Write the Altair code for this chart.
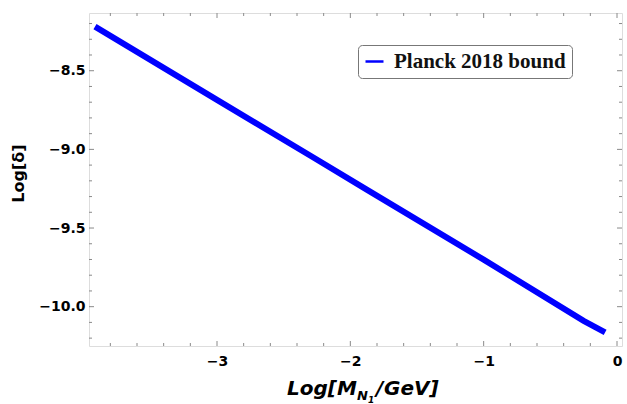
import altair as alt
import pandas as pd

# ---- data ----
log_m = [-3.915, -3.0, -2.28, -1.88, -1.0, -0.25, -0.089]
log_delta = [-8.22, -8.685, -9.05, -9.254, -9.701, -10.09, -10.163]
series_name = "Planck 2018 bound"

x_major = [-3, -2, -1, 0]
x_minor = [-3.8, -3.6, -3.4, -3.2, -2.8, -2.6, -2.4, -2.2, -1.8, -1.6, -1.4, -1.2,
           -0.8, -0.6, -0.4, -0.2]
y_major = [-8.5, -9.0, -9.5, -10.0]
y_minor = [-8.2, -8.3, -8.4, -8.6, -8.7, -8.8, -8.9, -9.1, -9.2, -9.3, -9.4,
           -9.6, -9.7, -9.8, -9.9, -10.1, -10.2]

X_DOMAIN = [-3.96, 0.0375]
Y_DOMAIN = [-10.25, -8.133]
W, H = 533, 333
FRAME = "#8a8a8a"

df = pd.DataFrame({"m": log_m, "d": log_delta, "s": [series_name] * len(log_m)})

xs = alt.Scale(domain=X_DOMAIN, nice=False, zero=False)
ys = alt.Scale(domain=Y_DOMAIN, nice=False, zero=False)

x_axis = alt.Axis(
    values=x_major, format=".0f", title=None, ticks=False, domain=False, grid=False,
    labelFont="DejaVu Sans", labelFontWeight="bold", labelFontSize=14,
    labelColor="black", labelPadding=8)
y_axis = alt.Axis(
    values=y_major, format=".1f", title="Log[δ]", ticks=False, domain=False, grid=False,
    labelFont="DejaVu Sans", labelFontWeight="bold", labelFontSize=14,
    labelColor="black", labelPadding=4,
    titleFont="DejaVu Sans", titleFontWeight="bold", titleFontSize=16,
    titleColor="black", titleAngle=270, titleX=-71, titleY=160,
    titleAlign="center", titleBaseline="middle")

line = alt.Chart(df).mark_line(strokeWidth=6, strokeCap="butt").encode(
    x=alt.X("m:Q", scale=xs, axis=x_axis),
    y=alt.Y("d:Q", scale=ys, axis=y_axis),
    color=alt.Color("s:N", scale=alt.Scale(range=["#0000ff"]), legend=alt.Legend(
        title=None, orient="none", legendX=269, legendY=32,
        symbolType="stroke", symbolSize=324, symbolStrokeWidth=2.5,
        symbolStrokeColor="#5050dd",
        labelFont="Liberation Serif", labelFontWeight="bold", labelFontSize=21,
        labelColor="#111", labelOffset=9, labelLimit=400,
        padding=6, cornerRadius=4, strokeColor="#777", fillColor="white")),
    order=alt.Order("m:Q"),
)


def xticks(vals, length):
    d = pd.DataFrame({"m": vals})
    bottom = alt.Chart(d).mark_rule(color=FRAME, strokeWidth=1).encode(
        x=alt.X("m:Q", scale=xs, axis=x_axis), y=alt.value(H), y2=alt.value(H - length))
    top = alt.Chart(d).mark_rule(color=FRAME, strokeWidth=1).encode(
        x=alt.X("m:Q", scale=xs, axis=x_axis), y=alt.value(0), y2=alt.value(length))
    return [bottom, top]


def yticks(vals, length):
    d = pd.DataFrame({"d": vals})
    left = alt.Chart(d).mark_rule(color=FRAME, strokeWidth=1).encode(
        y=alt.Y("d:Q", scale=ys, axis=y_axis), x=alt.value(0), x2=alt.value(length))
    right = alt.Chart(d).mark_rule(color=FRAME, strokeWidth=1).encode(
        y=alt.Y("d:Q", scale=ys, axis=y_axis), x=alt.value(W), x2=alt.value(W - length))
    return [left, right]


ticks = xticks(x_major, 5) + xticks(x_minor, 3) + yticks(y_major, 5) + yticks(y_minor, 3)

one = pd.DataFrame({"k": [0]})


def txt(s, x, y, size):
    return alt.Chart(one).mark_text(
        text=s, align="left", baseline="alphabetic", font="DejaVu Sans",
        fontWeight="bold", fontStyle="italic", fontSize=size, color="black"
    ).encode(x=alt.value(x), y=alt.value(y))


title_parts = [
    txt("Log[M", 198, 382, 20),
    txt("N", 268, 387, 13),
    txt("1", 279, 390, 9),
    txt("/", 287, 382, 20),
    txt("GeV]", 295, 382, 20),
]

chart = alt.layer(line, *ticks, *title_parts).properties(
    width=W, height=H,
    autosize=alt.AutoSizeParams(type="none"),
    padding={"left": 89, "top": 13, "right": 5, "bottom": 58},
).configure_view(stroke=FRAME, strokeWidth=1).configure(background="white")

chart.save("out.html", embed_options={"renderer": "svg", "actions": False})
